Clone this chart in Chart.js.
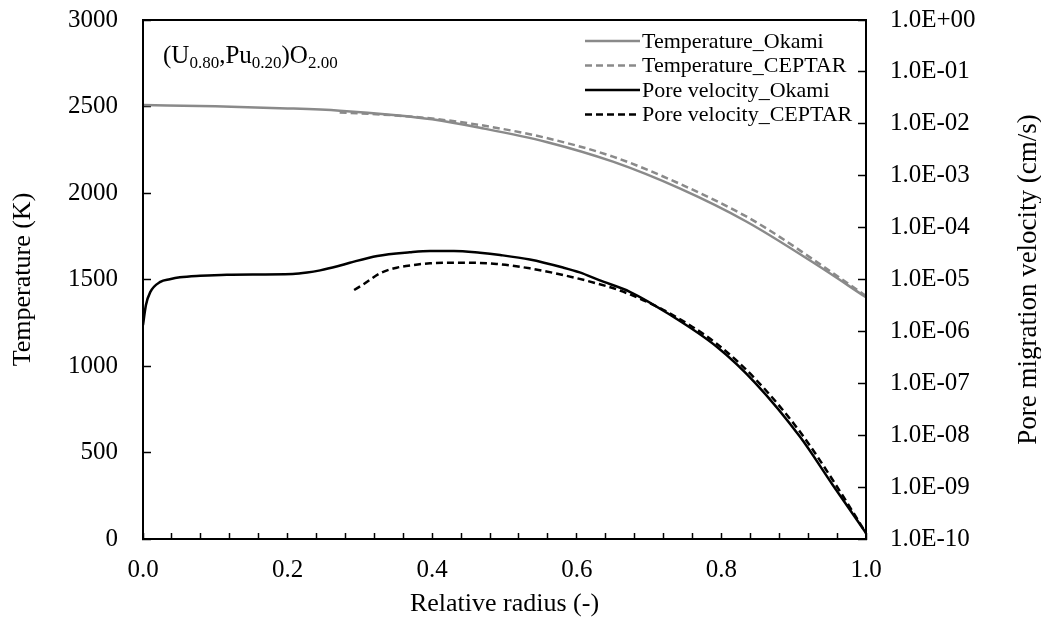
<!DOCTYPE html>
<html>
<head>
<meta charset="utf-8">
<script src="https://cdn.jsdelivr.net/npm/chart.js@4.4.0/dist/chart.umd.min.js"></script>
<style>
  html, body { margin: 0; padding: 0; background: #fff; }
</style>
</head>
<body>
<canvas id="chPore" width="1041" height="622"></canvas>
<script>
/* temperature and pore migration velocity vs relative radius */

var serif = '"Liberation Serif", "Times New Roman", serif';
var gray = '#8a8a8a';

// temperature (K), left axis
var rTempOkami = [0.00, 0.10, 0.20, 0.272, 0.35, 0.40, 0.466, 0.558, 0.650, 0.743, 0.835, 0.927, 1.00];
var tempOkami  = [2509, 2501, 2489, 2476, 2450, 2426, 2377, 2295, 2181, 2025, 1834, 1598, 1397];

var rTempCeptar = [0.272, 0.35, 0.40, 0.466, 0.558, 0.650, 0.743, 0.835, 0.880, 0.927, 1.00];
var tempCeptar  = [2466, 2448, 2430, 2393, 2318, 2210, 2052, 1863, 1748, 1615, 1405];

// pore migration velocity (cm/s), right log axis
var rPoreOkami = [0.000, 0.004, 0.010, 0.024, 0.037, 0.051, 0.079, 0.116, 0.207, 0.227, 0.245, 0.269, 0.286,
                  0.324, 0.369, 0.397, 0.430, 0.466, 0.494, 0.535, 0.581, 0.604, 0.631, 0.674, 0.725,
                  0.794, 0.847, 0.909, 0.954, 1.000];
var poreOkami  = [1.33e-6, 3.2e-6, 5.7e-6, 9.0e-6, 1.01e-5, 1.10e-5, 1.18e-5, 1.24e-5, 1.28e-5, 1.36e-5, 1.50e-5, 1.80e-5, 2.10e-5,
                  2.84e-5, 3.34e-5, 3.54e-5, 3.54e-5, 3.27e-5, 2.96e-5, 2.43e-5, 1.70e-5, 1.37e-5, 9.7e-6, 5.74e-6, 2.26e-6,
                  5.0e-7, 1.01e-7, 9.2e-9, 1.10e-9, 1.3e-10];

var rPoreCeptar = [0.292, 0.305, 0.328, 0.351, 0.374, 0.397, 0.443, 0.489, 0.535, 0.581, 0.627, 0.664, 0.725,
                   0.794, 0.847, 0.909, 0.954, 1.000];
var poreCeptar  = [6.28e-6, 8.09e-6, 1.32e-5, 1.69e-5, 1.90e-5, 2.05e-5, 2.11e-5, 1.99e-5, 1.64e-5, 1.22e-5, 8.45e-6, 5.82e-6, 2.37e-6,
                   5.71e-7, 1.21e-7, 1.15e-8, 1.37e-9, 1.3e-10];

// axis ticks
var tempTicks = [0, 500, 1000, 1500, 2000, 2500, 3000];
var poreTicks = [1e-10, 1e-9, 1e-8, 1e-7, 1e-6, 1e-5, 1e-4, 1e-3, 1e-2, 1e-1, 1e0];
var radiusStep = 0.04;
var radiusLabelStep = 0.2;

function toPoints(xs, ys) {
  return xs.map(function (x, i) { return { x: x, y: ys[i] }; });
}

function sciLabel(v) {
  var e = Math.round(Math.log10(v));
  var a = Math.abs(e);
  return '1.0E' + (e < 0 ? '-' : '+') + (a < 10 ? '0' + a : a);
}

var lineStyle = { pointRadius: 0, borderWidth: 2.5, fill: false, cubicInterpolationMode: 'monotone' };

var chData = {
  datasets: [
    Object.assign({ label: 'Temperature_Okami', data: toPoints(rTempOkami, tempOkami),
      borderColor: gray, yAxisID: 'y' }, lineStyle),
    Object.assign({ label: 'Temperature_CEPTAR', data: toPoints(rTempCeptar, tempCeptar),
      borderColor: gray, borderDash: [7, 4], yAxisID: 'y' }, lineStyle),
    Object.assign({ label: 'Pore velocity_Okami', data: toPoints(rPoreOkami, poreOkami),
      borderColor: '#000', yAxisID: 'y2' }, lineStyle),
    Object.assign({ label: 'Pore velocity_CEPTAR', data: toPoints(rPoreCeptar, poreCeptar),
      borderColor: '#000', borderDash: [7, 4], yAxisID: 'y2' }, lineStyle)
  ]
};

// frame, legend inside the plot, composition label, right axis title
var decor = {
  id: 'decor',
  afterDraw: function (chart) {
    var ctx = chart.ctx, a = chart.chartArea;
    ctx.save();
    ctx.strokeStyle = '#000';
    ctx.lineWidth = 2;
    ctx.strokeRect(a.left, a.top, a.right - a.left, a.bottom - a.top);

    // legend
    ctx.font = '22px ' + serif;
    ctx.textBaseline = 'middle';
    ctx.textAlign = 'left';
    ctx.fillStyle = '#000';
    var lx = a.right - 281;
    chart.data.datasets.forEach(function (ds, i) {
      var ly = a.top + 21 + i * 24.5;
      ctx.strokeStyle = ds.borderColor;
      ctx.lineWidth = 2.5;
      ctx.setLineDash(ds.borderDash || []);
      ctx.beginPath();
      ctx.moveTo(lx, ly);
      ctx.lineTo(lx + 55, ly);
      ctx.stroke();
      ctx.fillText(ds.label, lx + 57, ly + 1);
    });
    ctx.setLineDash([]);

    // (U0.80,Pu0.20)O2.00
    var parts = [['(U', 0], ['0.80', 1], [',Pu', 0], ['0.20', 1], [')O', 0], ['2.00', 1]];
    var tx = a.left + 20, ty = a.top + 43;
    ctx.textBaseline = 'alphabetic';
    parts.forEach(function (p) {
      ctx.font = (p[1] ? '17px ' : '25px ') + serif;
      ctx.fillText(p[0], tx, ty + (p[1] ? 5 : 0));
      tx += ctx.measureText(p[0]).width;
    });

    // right axis title, reads bottom to top
    ctx.font = '27px ' + serif;
    ctx.textAlign = 'center';
    ctx.textBaseline = 'middle';
    ctx.translate(chart.width - 12, (a.top + a.bottom) / 2);
    ctx.rotate(-Math.PI / 2);
    ctx.fillText('Pore migration velocity (cm/s)', 0, 0);
    ctx.restore();
  }
};

var tickFont = { family: serif, size: 25 };
var titleFont = { family: serif, size: 26 };

function noEdgePad(s) {
  s.paddingTop = 0;
  s.paddingBottom = 0;
}

new Chart(document.getElementById('chPore'), {
  type: 'line',
  data: chData,
  plugins: [decor],
  options: {
    responsive: false,
    animation: false,
    layout: { padding: { top: 20, left: 0, right: 0, bottom: 0 } },
    plugins: { legend: { display: false }, tooltip: { enabled: false } },
    scales: {
      x: {
        type: 'linear', min: 0, max: 1, position: 'bottom',
        ticks: {
          stepSize: radiusStep, autoSkip: false, maxRotation: 0, padding: 22,
          color: '#000', font: tickFont,
          callback: function (v) {
            var k = v / radiusLabelStep;
            return Math.abs(k - Math.round(k)) < 1e-6 ? v.toFixed(1) : '';
          }
        },
        grid: { drawOnChartArea: false, tickLength: -6, tickColor: '#000', tickWidth: 1.5 },
        border: { color: '#000', width: 2 },
        title: { display: true, text: 'Relative radius (-)', color: '#000', font: titleFont, padding: { top: 0, bottom: 2 } },
        afterFit: function (s) { s.height = 83; }
      },
      y: {
        position: 'left', min: 0, max: 3000,
        afterBuildTicks: function (s) { s.ticks = tempTicks.map(function (v) { return { value: v }; }); },
        ticks: { padding: 33, color: '#000', font: tickFont, callback: function (v) { return String(v); } },
        grid: { drawOnChartArea: false, tickLength: -8, tickColor: '#000', tickWidth: 1.5 },
        border: { color: '#000', width: 2 },
        title: { display: true, text: 'Temperature (K)', color: '#000', font: titleFont, padding: { top: 8, bottom: 0 } },
        afterFit: function (s) { s.width = 143; noEdgePad(s); }
      },
      y2: {
        type: 'logarithmic', position: 'right', min: 1e-10, max: 1,
        afterBuildTicks: function (s) { s.ticks = poreTicks.map(function (v) { return { value: v }; }); },
        ticks: { padding: 32, color: '#000', font: tickFont, callback: function (v) { return sciLabel(v); } },
        grid: { drawOnChartArea: false, tickLength: -8, tickColor: '#000', tickWidth: 1.5 },
        border: { color: '#000', width: 2 },
        afterFit: function (s) { s.width = 175; noEdgePad(s); }
      }
    }
  }
});
</script>
</body>
</html>
